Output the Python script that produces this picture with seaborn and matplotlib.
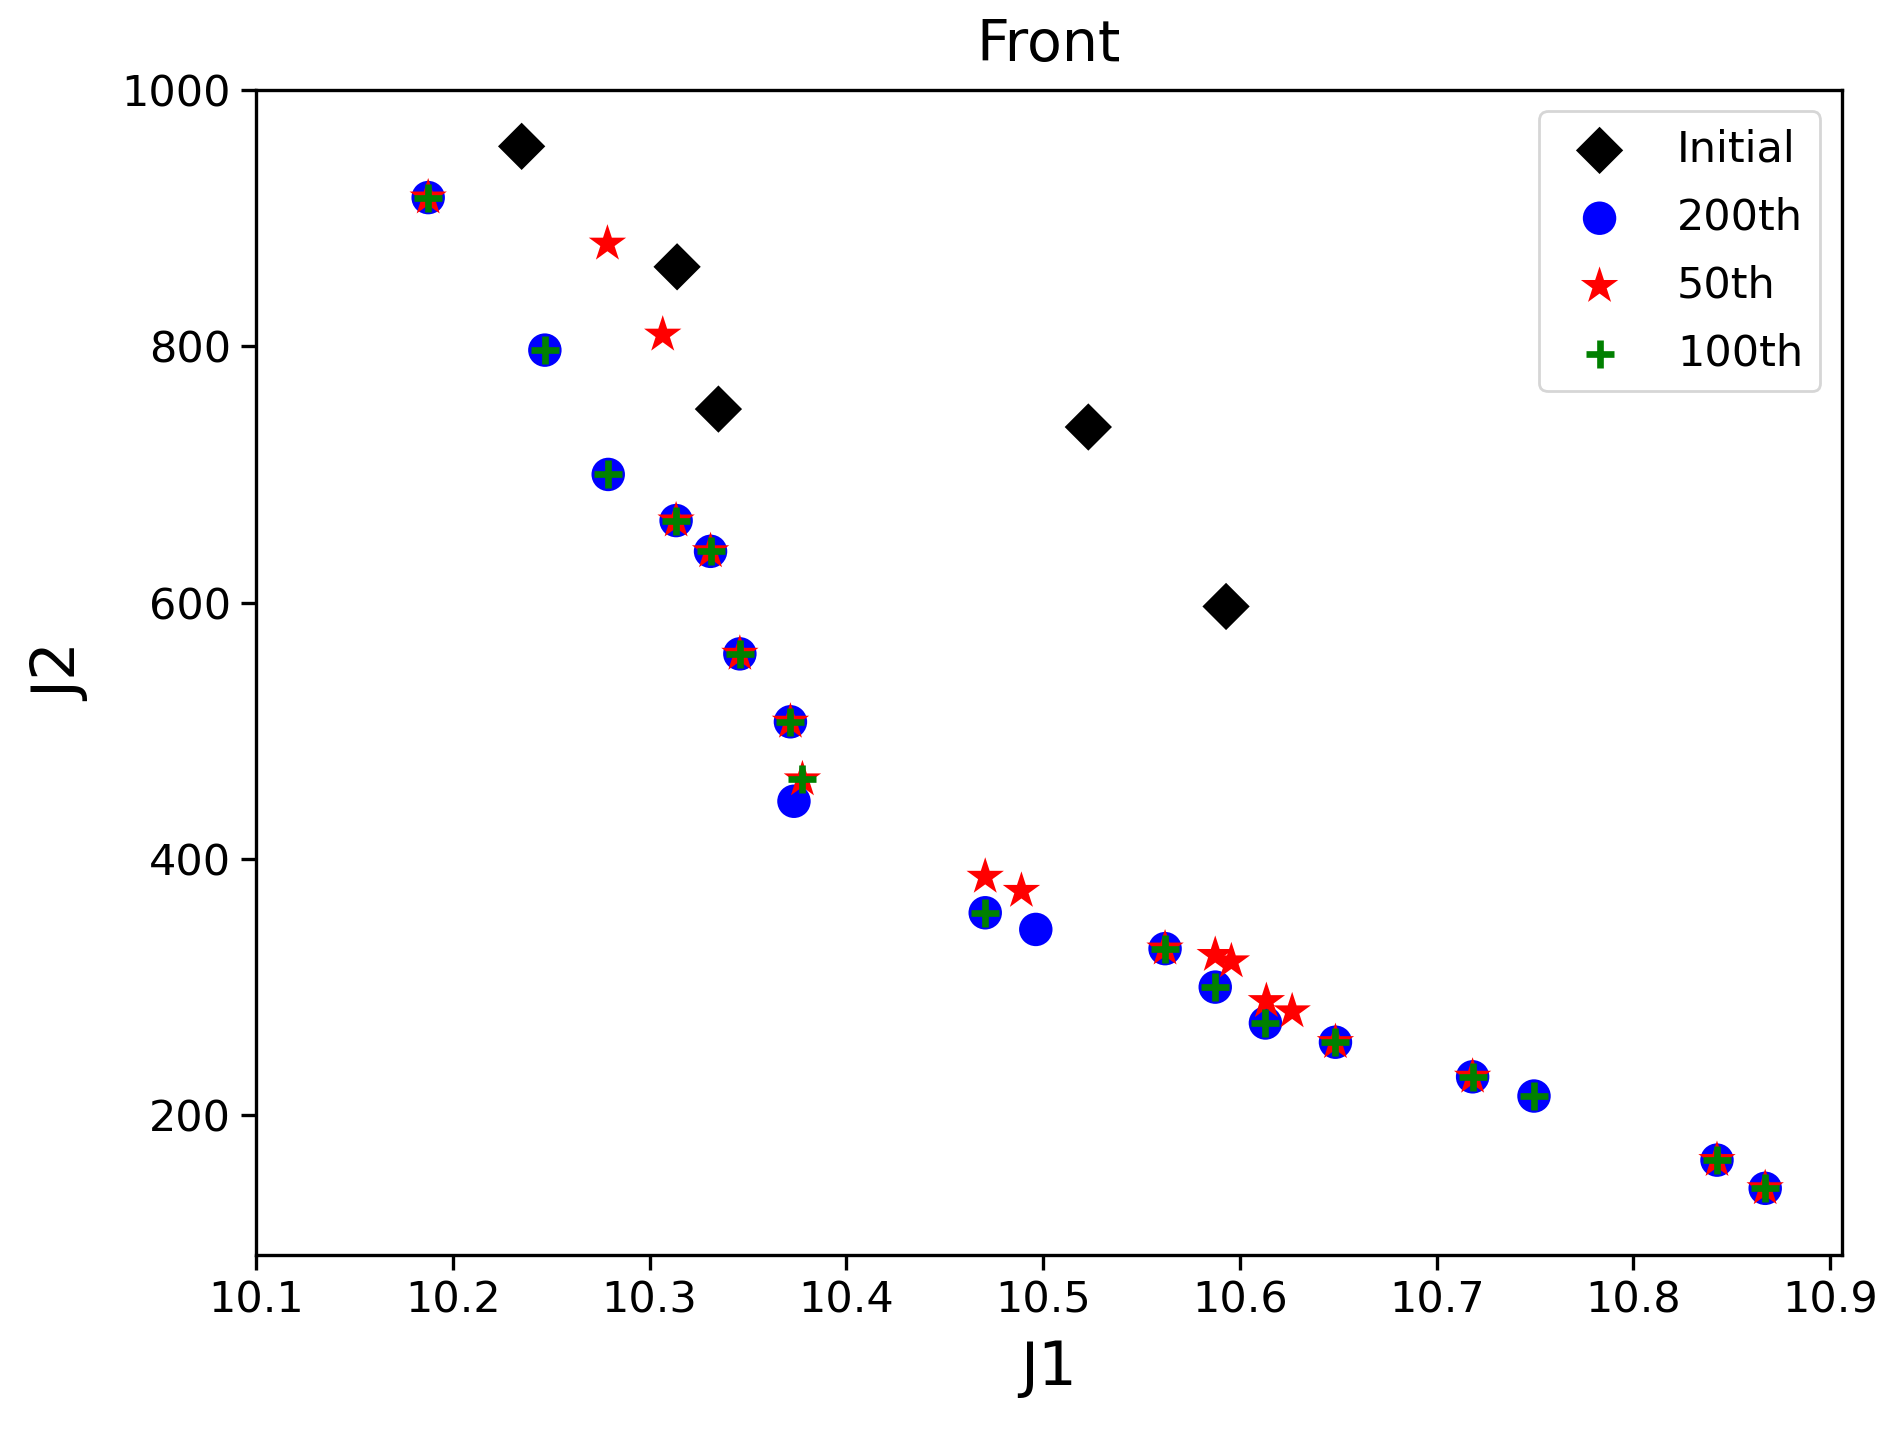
import matplotlib
matplotlib.use('Agg')
import matplotlib.pyplot as plt
import seaborn as sns
import pandas as pd

# Valores (J1, J2) de cada geracao
initial_j1 = [10.235, 10.314, 10.335, 10.523, 10.593]
initial_j2 = [956, 862, 751, 737, 597]

gen200_j1 = [10.1875, 10.2468, 10.279, 10.3135, 10.331, 10.3459, 10.3716, 10.3734,
             10.4706, 10.4963, 10.562, 10.5875, 10.613, 10.6486, 10.7183, 10.7495,
             10.8425, 10.867]
gen200_j2 = [916, 797, 700, 664, 640, 560, 507, 445,
             358, 345, 330, 300, 272, 257, 230, 215,
             165, 143]

gen50_j1 = [10.1875, 10.2786, 10.3067, 10.3135, 10.331, 10.3459, 10.3716, 10.3777,
            10.4706, 10.489, 10.562, 10.5875, 10.5957, 10.6135, 10.6266, 10.6486,
            10.7183, 10.8425, 10.867]
gen50_j2 = [916, 880, 809, 664, 640, 560, 507, 462,
            386, 375, 330, 325, 320, 289, 281, 257,
            230, 165, 143]

gen100_j1 = [10.1875, 10.2468, 10.279, 10.3135, 10.331, 10.3459, 10.3716, 10.3777,
             10.4706, 10.562, 10.5875, 10.613, 10.6486, 10.7183, 10.7495, 10.8425,
             10.867]
gen100_j2 = [916, 797, 700, 664, 640, 560, 507, 462,
             358, 330, 300, 272, 257, 230, 215, 165,
             143]

series = [
    ('Initial', initial_j1, initial_j2, 'D', 'black', 145),
    ('200th', gen200_j1, gen200_j2, 'o', 'blue', 145),
    ('50th', gen50_j1, gen50_j2, '*', 'red', 200),
    ('100th', gen100_j1, gen100_j2, '+', 'green', 100),
]

fig = plt.figure(figsize=(9.44, 7.15), dpi=200)
ax = fig.add_axes([0.1356, 0.1224, 0.84, 0.8147])

for nome, j1, j2, marcador, cor, tam in series:
    df = pd.DataFrame({'J1': j1, 'J2': j2})
    if marcador == '+':
        sns.scatterplot(data=df, x='J1', y='J2', marker=marcador, color=cor,
                        s=tam, linewidth=2.4, label=nome, ax=ax)
    else:
        sns.scatterplot(data=df, x='J1', y='J2', marker=marcador, color=cor,
                        s=tam, edgecolor='none', linewidth=0, label=nome, ax=ax)

ax.set_xlim(10.1, 10.906)
ax.set_ylim(91, 1000)
ax.set_xticks([10.1, 10.2, 10.3, 10.4, 10.5, 10.6, 10.7, 10.8, 10.9])
ax.set_yticks([200, 400, 600, 800, 1000])

ax.set_title('Front', fontsize=20.5, pad=10.5)
ax.set_xlabel('J1', fontsize=22, labelpad=6)
ax.set_ylabel('J2', fontsize=22, labelpad=11)
ax.tick_params(labelsize=15.5, length=5.5, width=1.2)
for sp in ax.spines.values():
    sp.set_linewidth(1.2)

ax.legend(loc='upper right', fontsize=15.5, labelspacing=0.6)

fig.savefig('out.png', dpi=200)
